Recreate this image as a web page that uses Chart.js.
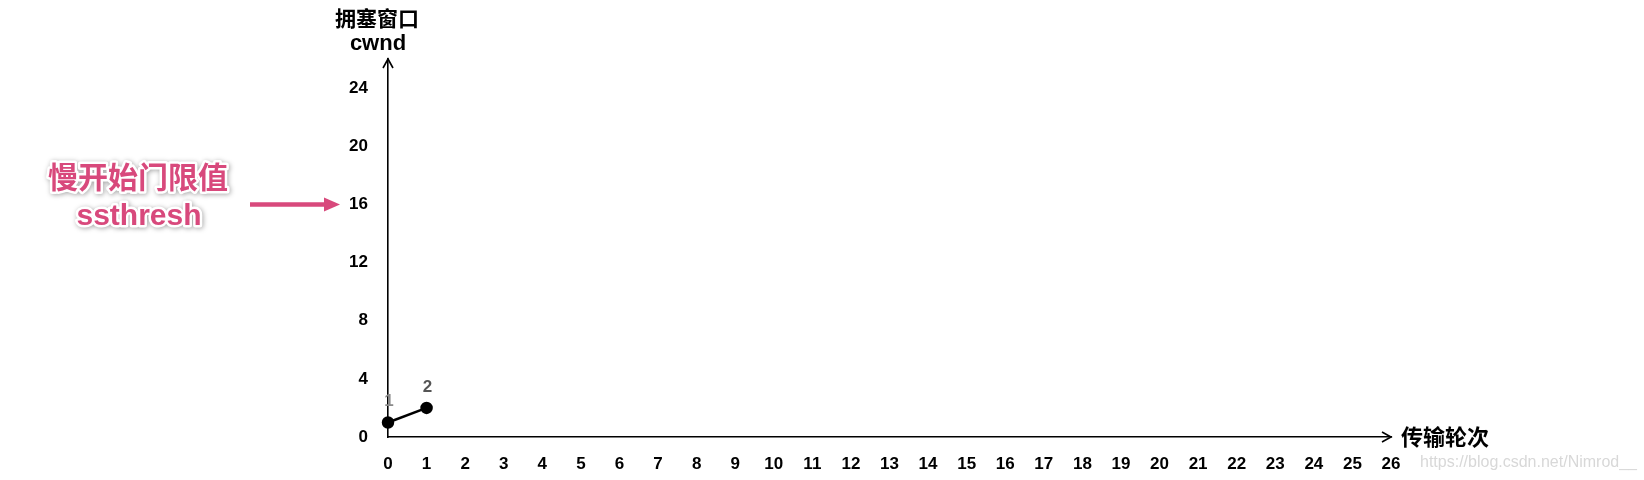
<!DOCTYPE html>
<html>
<head>
<meta charset="utf-8">
<script src="https://cdn.jsdelivr.net/npm/chart.js@4"></script>
<style>
  html, body { margin: 0; padding: 0; background: #fff; }
  #wrap { width: 1644px; height: 480px; }
</style>
</head>
<body>
<div id="wrap"><canvas id="cwnd"></canvas></div>
<script>
// congestion window, slow start - first two rounds
const rounds = [0, 1];
const cwnd   = [1, 2];
const pointLabels = ['1', '2'];
const yTickValues = [0, 4, 8, 12, 16, 20, 24];
const ssthresh = 16;

const latin = "'Liberation Sans', Arial, sans-serif";
const cjk   = "'Noto Sans CJK SC', 'Liberation Sans', sans-serif";
const pink  = '#d8497c';

const decor = {
  id: 'decor',
  afterDraw(chart) {
    const { ctx, chartArea: a, scales: { y } } = chart;
    ctx.save();

    // axis arrowheads
    ctx.strokeStyle = '#000';
    ctx.lineWidth = 1.6;
    ctx.beginPath();
    ctx.moveTo(a.left - 5, a.top + 9); ctx.lineTo(a.left, a.top); ctx.lineTo(a.left + 5, a.top + 9);
    ctx.moveTo(a.right - 9, a.bottom - 5); ctx.lineTo(a.right, a.bottom); ctx.lineTo(a.right - 9, a.bottom + 5);
    ctx.stroke();

    // axis titles
    ctx.fillStyle = '#000';
    ctx.textAlign = 'center';
    ctx.textBaseline = 'middle';
    ctx.font = 'bold 21px ' + cjk;
    ctx.fillText('拥塞窗口', a.left - 11, 18);
    ctx.font = 'bold 22px ' + latin;
    ctx.fillText('cwnd', a.left - 10, 44);
    ctx.textAlign = 'left';
    ctx.font = 'bold 22px ' + cjk;
    ctx.fillText('传输轮次', a.right + 10, a.bottom);

    // point labels
    const meta = chart.getDatasetMeta(0);
    ctx.textAlign = 'center';
    ctx.font = 'bold 17px ' + latin;
    meta.data.forEach((pt, i) => {
      ctx.fillStyle = i === 0 ? '#8a8a8a' : '#555';
      ctx.fillText(pointLabels[i], pt.x + 1, pt.y - 21);
    });

    // ssthresh annotation
    const ty = y.getPixelForValue(ssthresh);
    ctx.fillStyle = pink;
    ctx.strokeStyle = pink;
    ctx.lineWidth = 4.5;
    ctx.beginPath();
    ctx.moveTo(250, ty); ctx.lineTo(326, ty);
    ctx.stroke();
    ctx.beginPath();
    ctx.moveTo(324, ty - 7); ctx.lineTo(340, ty); ctx.lineTo(324, ty + 7);
    ctx.closePath();
    ctx.fill();

    ctx.textAlign = 'center';
    const drawLabel = (txt, x, yy, font) => {
      ctx.font = font;
      ctx.shadowColor = 'rgba(0,0,0,0.35)';
      ctx.shadowBlur = 5;
      ctx.shadowOffsetX = 1;
      ctx.shadowOffsetY = 1;
      ctx.strokeStyle = '#fff';
      ctx.lineWidth = 5;
      ctx.lineJoin = 'round';
      ctx.strokeText(txt, x, yy);
      ctx.shadowColor = 'transparent';
      ctx.fillStyle = pink;
      ctx.fillText(txt, x, yy);
    };
    drawLabel('慢开始门限值', 138, 177, 'bold 30px ' + cjk);
    drawLabel('ssthresh', 139, 217, 'bold 30px ' + latin);

    // watermark
    ctx.textAlign = 'left';
    ctx.fillStyle = '#d8d8d8';
    ctx.font = '16px ' + latin;
    ctx.fillText('https://blog.csdn.net/Nimrod__', 1420, 463);

    ctx.restore();
  }
};

new Chart(document.getElementById('cwnd').getContext('2d'), {
  type: 'line',
  data: {
    datasets: [{
      data: rounds.map((r, i) => ({ x: r, y: cwnd[i] })),
      borderColor: '#000', backgroundColor: '#000',
      borderWidth: 2.5, pointRadius: 5, pointBackgroundColor: '#000',
      clip: false
    }]
  },
  options: {
    responsive: true, maintainAspectRatio: false, animation: false,
    layout: { padding: { top: 59, right: 253, left: 0, bottom: 0 } },
    plugins: { legend: { display: false }, tooltip: { enabled: false } },
    scales: {
      x: {
        type: 'linear', min: 0, max: 26,
        ticks: { stepSize: 1, color: '#000', padding: 17, font: { family: latin, size: 17, weight: 'bold' } },
        grid: { display: false, drawTicks: false },
        border: { display: true, color: '#000', width: 1.6 },
        afterFit: s => { s.height = 43; }
      },
      y: {
        type: 'linear', min: 0, max: 26,
        afterBuildTicks: s => { s.ticks = yTickValues.map(v => ({ value: v })); },
        ticks: { color: '#000', padding: 20, font: { family: latin, size: 17, weight: 'bold' } },
        grid: { display: false, drawTicks: false },
        border: { display: true, color: '#000', width: 1.6 },
        afterFit: s => { s.width = 388; }
      }
    }
  },
  plugins: [decor]
});
</script>
</body>
</html>
